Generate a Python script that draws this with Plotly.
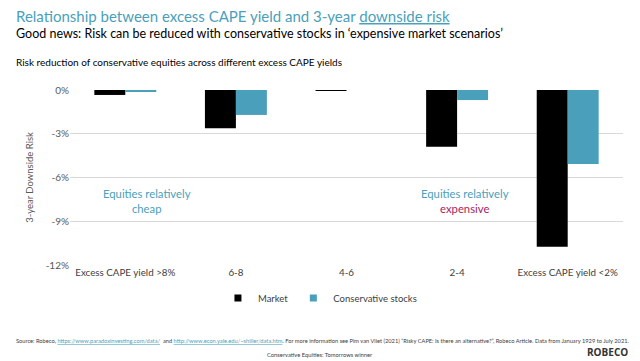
import plotly.graph_objects as go

categories = ["Excess CAPE yield >8%", "6-8", "4-6", "2-4", "Excess CAPE yield <2%"]
market = [-0.34, -2.63, -0.06, -3.89, -10.74]
conservative = [-0.10, -1.71, 0.0, -0.69, -5.07]
y_ticks = [0, -3, -6, -9, -12]
y_tick_labels = ["0%", "-3%", "-6%", "-9%", "-12%"]

TEAL = "#4a9fbb"
FONT = "Lato"

fig = go.Figure()
fig.add_trace(go.Bar(x=categories, y=market, name="Market", showlegend=False,
                     marker=dict(color="#000000", line=dict(width=0))))
fig.add_trace(go.Bar(x=categories, y=conservative, name="Conservative stocks", showlegend=False,
                     marker=dict(color=TEAL, line=dict(width=0))))
# legend entries with small square swatches
fig.add_trace(go.Scatter(x=[None], y=[None], mode="markers", name="Market",
                         marker=dict(symbol="square", size=7, color="#000000")))
fig.add_trace(go.Scatter(x=[None], y=[None], mode="markers", name="Conservative stocks",
                         marker=dict(symbol="square", size=7, color=TEAL)))

fig.update_layout(
    width=640, height=361,
    margin=dict(l=70, r=17, t=90, b=96, autoexpand=False),
    paper_bgcolor="white", plot_bgcolor="white",
    font=dict(family=FONT, color="#404040", size=10),
    barmode="group", bargap=0.44, bargroupgap=0,
    showlegend=True,
    legend=dict(orientation="h", x=0.452, xanchor="center", y=1 - (298 - 90) / 175, yanchor="middle",
                font=dict(size=9.5, color="#404040"), itemwidth=30,
                traceorder="normal", bgcolor="rgba(0,0,0,0)"),
    xaxis=dict(showgrid=False, showline=False, ticks="", tickfont=dict(size=9.8, color="#404040")),
    yaxis=dict(range=[-12, 0], tickvals=y_ticks, ticktext=y_tick_labels,
               showgrid=True, gridcolor="#d9d9d9", gridwidth=1, zeroline=False,
               ticks="", tickfont=dict(size=10, color="#595959"),
               title=dict(text="3-year Downside Risk", font=dict(size=9.5, color="#595959"), standoff=10)),
)

anns = [
    dict(x=14, y=16, text="Relationship between excess CAPE yield and 3-year <u>downside risk</u>",
         font=dict(size=15, color=TEAL)),
    dict(x=14, y=34, text="Good news: Risk can be reduced with conservative stocks in \u2018expensive market scenarios\u2019",
         font=dict(size=12.5, color="#000000")),
    dict(x=14, y=62, text="Risk reduction of conservative equities across different excess CAPE yields",
         font=dict(size=10, color="#000000")),
]
for a in anns:
    fig.add_annotation(xref="paper", yref="paper", x=(a["x"] - 70) / 553, y=1 - (a["y"] - 90) / 175,
                       xanchor="left", yanchor="middle", showarrow=False,
                       text=a["text"], font=dict(family=FONT, **a["font"]))

fig.add_annotation(xref="x", yref="y", x=categories[0], y=-7.6, xshift=22,
                   text="Equities relatively<br>cheap", showarrow=False,
                   font=dict(family=FONT, size=11.3, color=TEAL), align="center")
fig.add_annotation(xref="x", yref="y", x=categories[3], y=-7.6, xshift=8,
                   text="Equities relatively<br><span style='color:#a8245f'>expensive</span>",
                   showarrow=False, font=dict(family=FONT, size=11.3, color=TEAL), align="center")

link = "#4a9fbb"
src = ("Source: Robeco, <span style='color:%s'><u>https://www.paradoxinvesting.com/data/</u></span>  and "
       "<span style='color:%s'><u>http://www.econ.yale.edu/~shiller/data.htm</u></span>. For more information see "
       "Pim van Vliet (2021) \u201cRisky CAPE: Is there an alternative?\u201d, Robeco Article. Data from January 1929 to July 2021.") % (link, link)
fig.add_annotation(xref="paper", yref="paper", x=(14 - 70) / 553, y=1 - (340 - 90) / 175,
                   xanchor="left", yanchor="middle", showarrow=False, text=src,
                   font=dict(family=FONT, size=5.7, color="#404040"))
fig.add_annotation(xref="paper", yref="paper", x=(320 - 70) / 553, y=1 - (354 - 90) / 175,
                   xanchor="center", yanchor="middle", showarrow=False,
                   text="Conservative Equities: Tomorrows winner",
                   font=dict(family=FONT, size=5.8, color="#404040"))
fig.add_annotation(xref="paper", yref="paper", x=(630 - 70) / 553, y=1 - (352 - 90) / 175,
                   xanchor="right", yanchor="middle", showarrow=False,
                   text="<b>ROBECO</b>",
                   font=dict(family="Open Sans", size=10, color="#333333"))

fig.write_html("out.html", config={"displayModeBar": False},
               post_script="document.body.style.margin='0';document.body.style.overflow='hidden';")
